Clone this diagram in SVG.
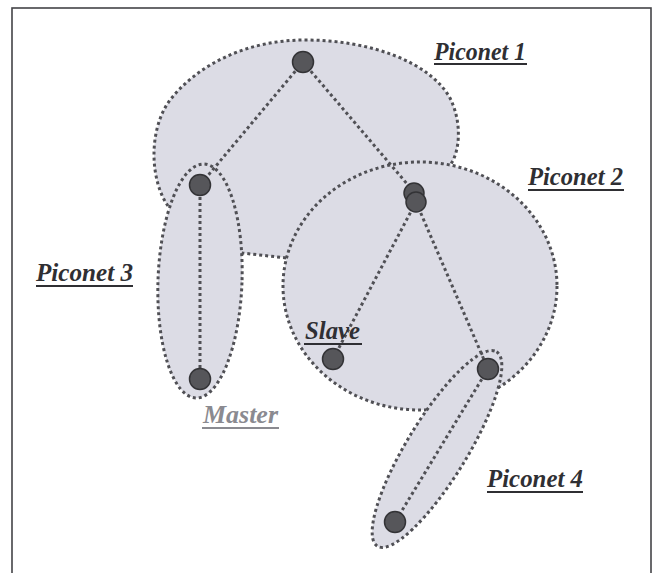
<svg xmlns="http://www.w3.org/2000/svg" width="658" height="573" viewBox="0 0 658 573">
<style>
.region{fill:#dcdce5;stroke:#505055;stroke-width:3;stroke-dasharray:3 3}
.link{fill:none;stroke:#505055;stroke-width:3;stroke-dasharray:3 3}
.node{fill:#56565a;stroke:#333336;stroke-width:1.5}
.lbl{font-family:"Liberation Serif","Times New Roman",serif;font-weight:bold;font-style:italic;font-size:26px;fill:#2f2f33}
.ul{stroke:#2f2f33;stroke-width:2}
</style>
<rect x="0" y="0" width="658" height="573" fill="#ffffff"/>
<rect id="frame" x="12" y="8" width="639" height="580" fill="none" stroke="#444448" stroke-width="1.6"/>
<g id="piconet1">
<path class="region" d="M 168,206 C 150,180 148,130 170,100 C 200,62 250,40 305,40 C 370,40 430,62 450,98 C 462,122 460,150 451,164 L 430,210 L 380,245 L 287,258 L 242,253 L 205,230 Z"/>
<text class="lbl" x="434" y="60" textLength="92" lengthAdjust="spacingAndGlyphs">Piconet 1</text>
<line class="ul" x1="434" y1="64" x2="527" y2="64"/>
</g>
<g id="piconet3">
<ellipse class="region" cx="200" cy="281" rx="42" ry="117" transform="rotate(2 200 281)"/>
<text class="lbl" x="36" y="281" textLength="97" lengthAdjust="spacingAndGlyphs">Piconet 3</text>
<line class="ul" x1="36" y1="286" x2="133" y2="286"/>
</g>
<g id="piconet2">
<ellipse class="region" cx="420" cy="286" rx="137" ry="124"/>
<text class="lbl" x="528" y="185" textLength="95" lengthAdjust="spacingAndGlyphs">Piconet 2</text>
<line class="ul" x1="528" y1="190" x2="624" y2="190"/>
</g>
<g id="piconet4">
<ellipse class="region" cx="437" cy="449" rx="114" ry="30" transform="rotate(-58.5 437 449)"/>
<text class="lbl" x="487" y="487" textLength="96" lengthAdjust="spacingAndGlyphs">Piconet 4</text>
<line class="ul" x1="487" y1="492" x2="583" y2="492"/>
</g>
<g id="connectors">
<line class="link" x1="303" y1="62" x2="200" y2="185"/>
<line class="link" x1="303" y1="62" x2="414" y2="192"/>
<line class="link" x1="200" y1="185" x2="200" y2="378"/>
<line class="link" x1="416" y1="202" x2="333" y2="359"/>
<line class="link" x1="416" y1="202" x2="488" y2="369"/>
<line class="link" x1="488" y1="369" x2="395" y2="522"/>
</g>
<g id="node-top"><circle class="node" cx="303" cy="62" r="10.5"/></g>
<g id="node-left"><circle class="node" cx="200" cy="185" r="10.5"/></g>
<g id="node-bridge-a"><circle class="node" cx="414" cy="193" r="10"/></g>
<g id="node-bridge-b"><circle class="node" cx="416" cy="202" r="10"/></g>
<g id="node-master"><circle class="node" cx="200" cy="379" r="10.5"/></g>
<g id="node-slave"><circle class="node" cx="333" cy="359" r="10.5"/></g>
<g id="node-right"><circle class="node" cx="488" cy="369" r="10.5"/></g>
<g id="node-bottom"><circle class="node" cx="395" cy="522" r="10.5"/></g>
<g id="label-slave">
<text class="lbl" x="305" y="339" textLength="55" lengthAdjust="spacingAndGlyphs">Slave</text>
<line class="ul" x1="304" y1="344" x2="362" y2="344"/>
</g>
<g id="label-master">
<text class="lbl" x="203" y="423" style="fill:#8a8a90" textLength="75" lengthAdjust="spacingAndGlyphs">Master</text>
<line class="ul" x1="202" y1="428" x2="279" y2="428" style="stroke:#8a8a90"/>
</g>
</svg>
